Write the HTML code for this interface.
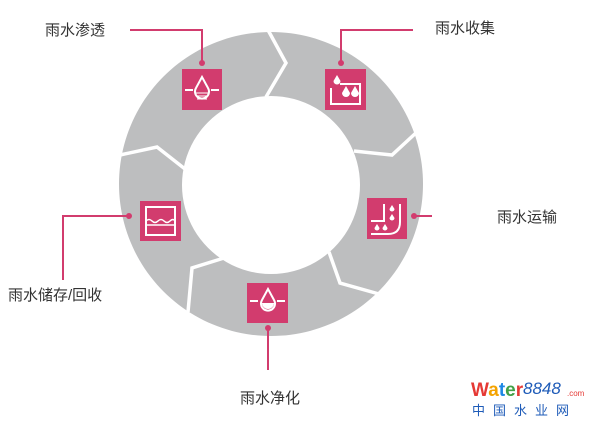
<!DOCTYPE html>
<html><head><meta charset="utf-8"><style>
body{margin:0;background:#fff;width:600px;height:428px;overflow:hidden}
svg{display:block}
text{font-family:"Liberation Sans","Noto Sans CJK SC",sans-serif}
</style></head><body>
<svg width="600" height="428" viewBox="0 0 600 428">
<path fill-rule="evenodd" fill="#bdbebf" d="M271,32a152,152 0 1,0 0.01,0Z M271,96a89,89 0 1,0 0.01,0Z"/>
<g stroke="#fff" stroke-width="3.5" fill="none" stroke-linejoin="miter">
<polyline points="268,30 286,63 266,97"/>
<polyline points="418,131 392,155 354,151"/>
<polyline points="329,252 340,283 379,294"/>
<polyline points="224,258 192,268 188,312"/>
<polyline points="185,169 157,147 120,155"/>
</g>
<g stroke="#d23c6e" stroke-width="2" fill="none">
<polyline points="130,30 202,30 202,63"/>
<polyline points="341,63 341,30 413,30"/>
<polyline points="414,216 432,216"/>
<polyline points="129,216 63,216 63,280"/>
<polyline points="268,328 268,370"/>
</g>
<g fill="#d23c6e">
<circle cx="202" cy="63" r="3"/><circle cx="341" cy="63" r="3"/><circle cx="414" cy="216" r="3"/><circle cx="129" cy="216" r="3"/><circle cx="268" cy="328" r="3"/>
<rect x="182" y="69" width="40" height="41"/>
<rect x="325" y="69" width="41" height="41"/>
<rect x="367" y="198" width="40" height="41"/>
<rect x="140" y="201" width="41" height="40"/>
<rect x="247" y="283" width="41" height="40"/>
</g>
<g stroke="#fff" stroke-width="2" fill="none">
<line x1="185" y1="90" x2="193" y2="90"/><line x1="211" y1="90" x2="219" y2="90"/>
<path d="M202,77 L196,88 A7,7 0 1,0 208,88 Z"/>
<line x1="196" y1="93" x2="208" y2="93" stroke-width="1"/><line x1="196" y1="96" x2="208" y2="96" stroke-width="1"/><line x1="197" y1="99" x2="207" y2="99" stroke-width="1"/>
<polyline points="331,88 331,104 360,104 360,84 340,84"/>
<rect x="146" y="207" width="29" height="28"/>
<path d="M146,221 q3,-3 6,0 q3,3 6,0 q3,-3 6,0 q3,3 6,0 q3,-3 5,0" stroke-width="1.5"/>
<line x1="146" y1="225" x2="175" y2="225" stroke-width="1.5"/>
<line x1="250" y1="301" x2="258" y2="301"/><line x1="277" y1="301" x2="285" y2="301"/>
<path d="M268,289 L262,300 A7,7 0 1,0 274,300 Z"/>
<polyline points="371,221 384,221 384,204"/>
<path d="M371,234 L388,234 Q400,234 400,222 L400,204"/>
</g>
<g fill="#fff">
<path d="M337,75 l-3.5,6 a3.5,3.5 0 1,0 7,0z"/>
<path d="M346,86 l-4,7 a4,4 0 1,0 8,0z"/>
<path d="M355,86 l-4,7 a4,4 0 1,0 8,0z"/>
<path d="M268,303 m-6,0 a6,6 0 0,0 12,0z"/>
<path d="M392,205 l-2.5,4 a2.5,2.5 0 1,0 5,0z"/>
<path d="M392,214 l-2.5,4 a2.5,2.5 0 1,0 5,0z"/>
<path d="M377,224 l-2.5,4 a2.5,2.5 0 1,0 5,0z"/>
<path d="M385,224 l-2.5,4 a2.5,2.5 0 1,0 5,0z"/>
</g>
<g font-size="15" fill="#333">
<text x="45" y="35">雨水渗透</text>
<text x="435" y="33">雨水收集</text>
<text x="497" y="222">雨水运输</text>
<text x="8" y="300">雨水储存/回收</text>
<text x="240" y="403">雨水净化</text>
</g>
<g font-weight="bold" font-size="19">
<text x="471" y="396"><tspan fill="#e53935">W</tspan><tspan fill="#f4a300">a</tspan><tspan fill="#1e88e5">t</tspan><tspan fill="#43a047">e</tspan><tspan fill="#e53935">r</tspan></text>
</g>
<text x="523" y="394" font-size="17" font-style="italic" fill="#1e5bb8" font-family="Liberation Serif,serif">8848</text>
<text x="567" y="396" font-size="8" fill="#e53935">.com</text>
<text x="472" y="415" font-size="13" fill="#1e5bb8" letter-spacing="8">中国水业网</text>
</svg>
</body></html>
